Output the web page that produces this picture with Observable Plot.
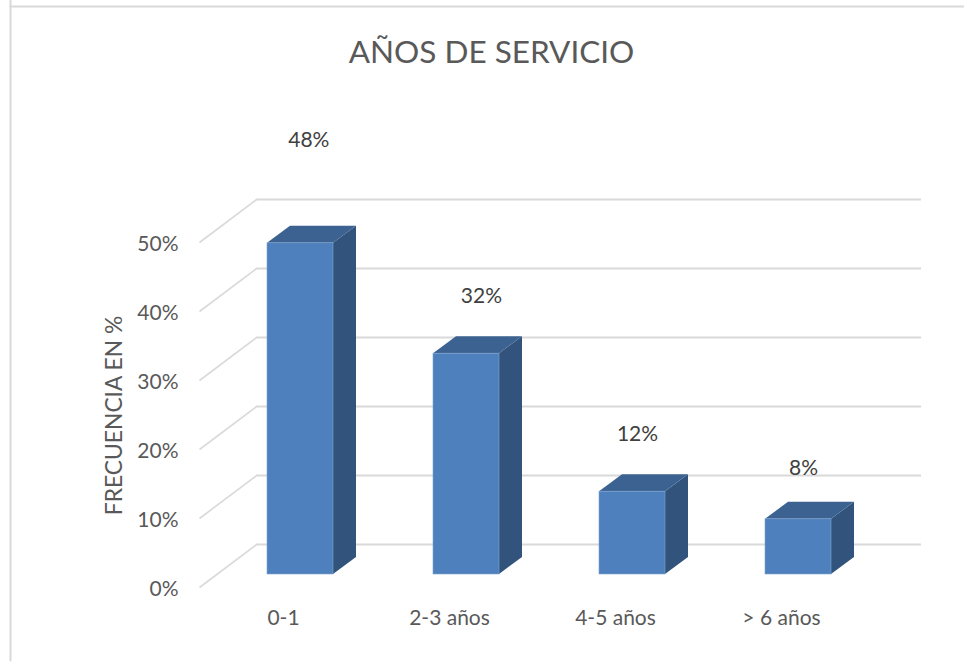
<!DOCTYPE html>
<html><head><meta charset="utf-8">
<script src="https://cdn.jsdelivr.net/npm/d3@7"></script>
<script src="https://cdn.jsdelivr.net/npm/@observablehq/plot@0.6"></script>
<style>
html,body{margin:0;padding:0;background:#fff;}
#chart{position:absolute;left:0;top:0;width:964px;height:663px;}
svg{display:block;font-family:Lato,"Noto Sans",sans-serif;}
</style></head><body><div id="chart"></div>
<script>
const categories = ["0-1", "2-3 años", "4-5 años", "> 6 años"];
const frequency = [48, 32, 12, 8];
const valueLabels = ["48%", "32%", "12%", "8%"];
const yTicks = [0, 10, 20, 30, 40, 50];
const chartTitle = "AÑOS DE SERVICIO";
const yTitle = "FRECUENCIA EN %";

// layout (in scale units): oblique depth of the chart
const halfBar = 33 / 166, depthX = 23 / 166, depthY = 17 / 6.9;
const floorLift = 30;            // px: bars stand in front of the wall
const wallDepthX = 57 / 166, wallDepthY = 43 / 6.9;
const wallLeft = -44 / 166, wallRight = 621 / 166;
const labelShiftX = [0.05, 0.09, 0.03, 0.03];
const labelLift = [15.0, 8.3, 8.3, 7.4];

const idx = d3.range(categories.length);
const sideFace = idx.flatMap(i => {
  const x = i + halfBar, v = frequency[i];
  return [
    {i, x, y1: 0, y2: v},
    {i, x: x + depthX, y1: depthY, y2: v + depthY}
  ];
});
const topFace = idx.flatMap(i => {
  const x0 = i - halfBar, x1 = i + halfBar, v = frequency[i];
  return [
    {i, x: x0, y1: v, y2: v},
    {i, x: x0 + depthX, y1: v, y2: v + depthY},
    {i, x: x1, y1: v, y2: v + depthY},
    {i, x: x1 + depthX, y1: v + depthY, y2: v + depthY}
  ];
});

const plot = Plot.plot({
  width: 964, height: 663, margin: 0,
  style: {background: "transparent", overflow: "visible"},
  x: {domain: [-300 / 166, 664 / 166], range: [0, 964], axis: null},
  y: {domain: [0, 50], range: [544, 199], axis: null},
  marks: [
    Plot.ruleY(yTicks, {x1: wallLeft, x2: wallRight, stroke: "#d9d9d9", strokeWidth: 2}),
    Plot.link(yTicks, {x1: wallLeft - wallDepthX, x2: wallLeft, y1: d => d - wallDepthY, y2: d => d, stroke: "#d9d9d9", strokeWidth: 1.6}),
    Plot.areaY(sideFace, {x: "x", y1: "y1", y2: "y2", z: "i", fill: "#32547c", dy: floorLift}),
    Plot.areaY(topFace, {x: "x", y1: "y1", y2: "y2", z: "i", fill: "#3c6291", dy: floorLift}),
    Plot.rect(idx, {x1: i => i - halfBar, x2: i => i + halfBar, y1: 0, y2: i => frequency[i], fill: "#4e80bd", stroke: "#7fa3d0", strokeWidth: 0.6, dy: floorLift}),
    Plot.text(idx, {x: i => i + labelShiftX[i], y: i => frequency[i] + labelLift[i], text: i => valueLabels[i], fontSize: 21, fill: "#404040", dy: floorLift}),
    Plot.text(idx, {x: i => i, y: 0, dy: 74, dx: -17, text: i => categories[i], fontSize: 21, fill: "#595959"}),
    Plot.text(yTicks, {x: wallLeft - wallDepthX, y: d => d, dx: -21, dy: 45, text: d => d + "%", fontSize: 21, fill: "#595959", textAnchor: "end"}),
    Plot.text([yTitle], {frameAnchor: "top-left", dx: 114, dy: 415, rotate: -90, fontSize: 22.8, fill: "#595959", textAnchor: "middle", lineAnchor: "middle"}),
    Plot.text([chartTitle], {frameAnchor: "top-left", dx: 491, dy: 52, fontSize: 31.5, fill: "#595959", textAnchor: "middle", lineAnchor: "middle"}),
    Plot.ruleY([50], {x1: -290.5 / 166, x2: 664 / 166, dy: -193, stroke: "#d9d9d9", strokeWidth: 2}),
    Plot.ruleX([-290 / 166], {y1: 79, y2: -17, stroke: "#d9d9d9", strokeWidth: 2})
  ]
});
document.getElementById("chart").append(plot);
</script></body></html>
